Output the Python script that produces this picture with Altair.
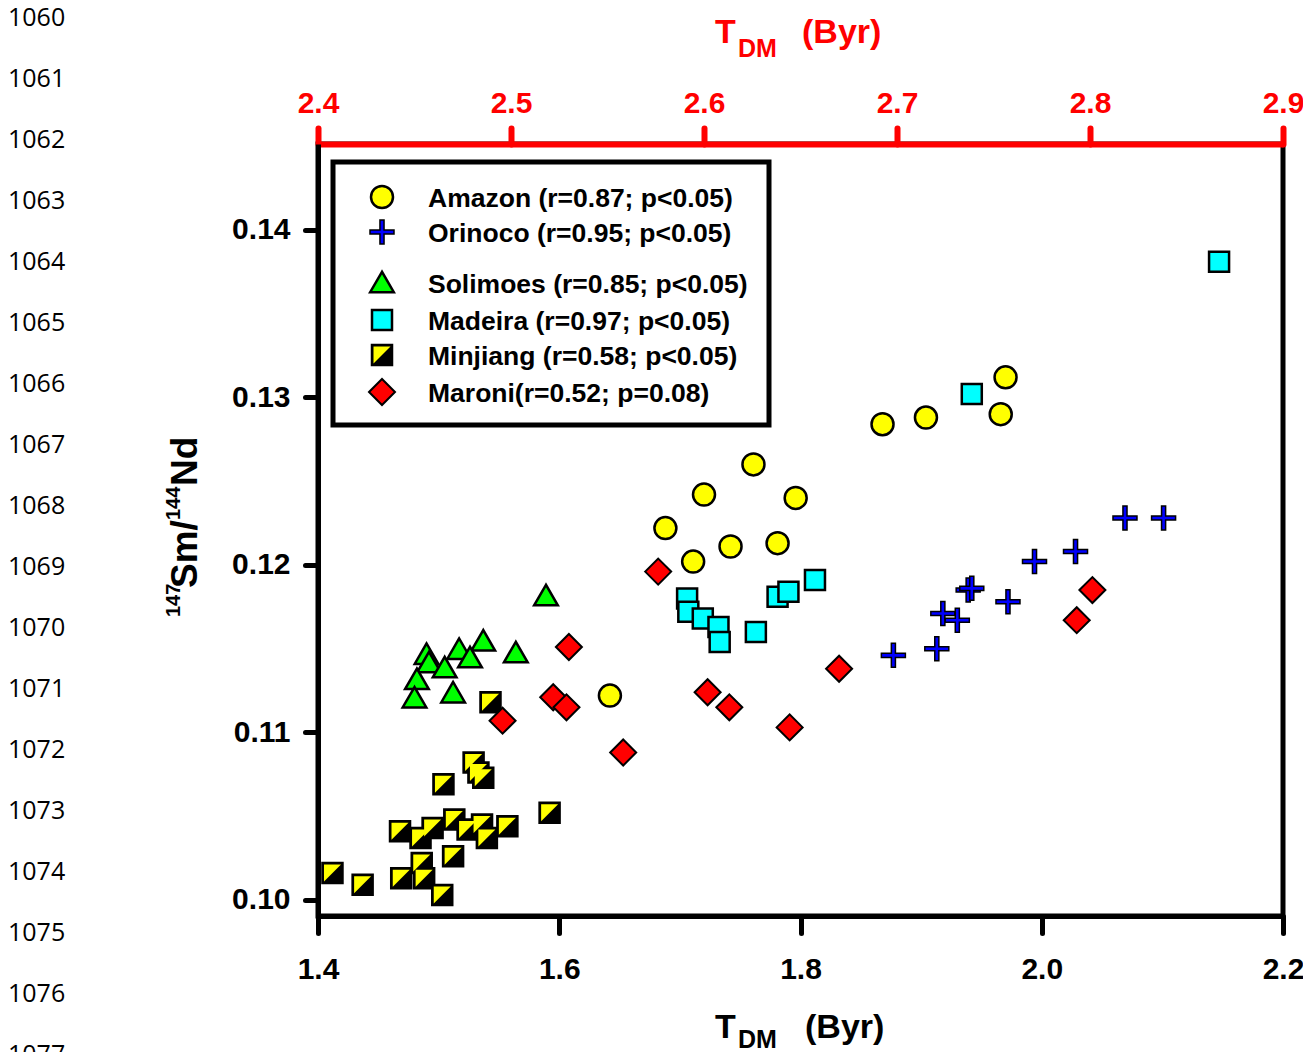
import altair as alt
import pandas as pd

# ---------------- data ----------------
amazon_x = [1.642, 1.688, 1.711, 1.720, 1.742, 1.761, 1.781, 1.796, 1.868, 1.904, 1.966, 1.970]
amazon_y = [0.1122, 0.1222, 0.1202, 0.1242, 0.1211, 0.1260, 0.1213, 0.1240, 0.1284, 0.1288, 0.1290, 0.1312]

orinoco_x = [1.877, 1.913, 1.918, 1.930, 1.939, 1.942, 1.972, 1.994, 2.028, 2.069, 2.101]
orinoco_y = [0.1146, 0.1150, 0.1171, 0.1167, 0.1185, 0.1186, 0.1178, 0.1202, 0.1208, 0.1228, 0.1228]

solimoes_x = [1.589, 1.537, 1.517, 1.564, 1.526, 1.490, 1.492, 1.505, 1.482, 1.512, 1.480]
solimoes_y = [0.1182, 0.1155, 0.1150, 0.1148, 0.1145, 0.1147, 0.1142, 0.1139, 0.1132, 0.1124, 0.1121]

madeira_x = [1.706, 1.707, 1.719, 1.732, 1.733, 1.763, 1.781, 1.790, 1.812, 1.942, 2.147]
madeira_y = [0.1180, 0.1172, 0.1168, 0.1163, 0.1154, 0.1160, 0.1181, 0.1184, 0.1191, 0.1302, 0.1381]

minjiang_x = [1.543, 1.529, 1.533, 1.537, 1.504, 1.592, 1.557, 1.468, 1.495, 1.513, 1.485,
              1.524, 1.536, 1.540, 1.512, 1.486, 1.412, 1.437, 1.469, 1.488, 1.503]
minjiang_y = [0.1118, 0.1082, 0.1076, 0.1073, 0.1069, 0.1052, 0.1044, 0.1041, 0.1043, 0.1048, 0.1037,
              0.1042, 0.1045, 0.1037, 0.1026, 0.1022, 0.1016, 0.1009, 0.1013, 0.1013, 0.1003]

maroni_x = [1.682, 1.723, 1.741, 1.791, 1.653, 1.832, 1.608, 1.595, 1.606, 1.553, 2.042, 2.029]
maroni_y = [0.1196, 0.1124, 0.1115, 0.1103, 0.1088, 0.1138, 0.1151, 0.1121, 0.1115, 0.1107, 0.1185, 0.1167]

bottom_ticks = [1.4, 1.6, 1.8, 2.0, 2.2]
left_ticks = [0.10, 0.11, 0.12, 0.13, 0.14]
top_ticks = [2.4, 2.5, 2.6, 2.7, 2.8, 2.9]
line_numbers = [str(n) for n in range(1060, 1078)]

legend_labels = ["Amazon (r=0.87; p<0.05)", "Orinoco (r=0.95; p<0.05)",
                 "Solimoes (r=0.85; p<0.05)", "Madeira (r=0.97; p<0.05)",
                 "Minjiang (r=0.58; p<0.05)", "Maroni(r=0.52; p=0.08)"]

# ---------------- styling / layout ----------------
FONT = "Liberation Sans"
W, H = 965, 772

CROSS = ("M-1,-0.17 L-0.17,-0.17 L-0.17,-1 L0.17,-1 L0.17,-0.17 L1,-0.17 L1,0.17 "
         "L0.17,0.17 L0.17,1 L-0.17,1 L-0.17,0.17 L-1,0.17 Z")
HALF = "M-0.85,-0.85 L0.85,-0.85 L-0.85,0.85 Z"

xscale = alt.Scale(domain=[1.4, 2.2], nice=False, zero=False)
yscale = alt.Scale(domain=[0.09904, 0.14513], nice=False, zero=False)

bottom_axis = alt.Axis(orient="bottom", values=bottom_ticks, format=".1f", title=None,
                       domainColor="black", domainWidth=5, tickColor="black", tickWidth=5,
                       tickSize=17, tickCap="round", labelFont=FONT, labelFontSize=30,
                       labelFontWeight="bold", labelColor="black", labelPadding=21,
                       labelFlush=False, labelOverlap=False, grid=False)
left_axis = alt.Axis(orient="left", values=left_ticks, format=".2f", title=None,
                     domainColor="black", domainWidth=5, tickColor="black", tickWidth=5,
                     tickSize=13, tickCap="round", labelFont=FONT, labelFontSize=30,
                     labelFontWeight="bold", labelColor="black", labelPadding=15,
                     labelFlush=False, labelOverlap=False, grid=False)
top_axis = alt.Axis(orient="top", values=top_ticks, format=".1f", title=None,
                    domainColor="#ff0000", domainWidth=6, tickColor="#ff0000", tickWidth=6,
                    tickSize=16, tickCap="round", labelFont=FONT, labelFontSize=30,
                    labelFontWeight="bold", labelColor="#ff0000", labelPadding=10,
                    labelFlush=False, labelOverlap=False, grid=False)


def series(xs, ys, shape, fill, stroke, size, sw):
    df = pd.DataFrame({"x": xs, "y": ys})
    return alt.Chart(df).mark_point(shape=shape, filled=True, fill=fill, stroke=stroke,
                                    strokeWidth=sw, size=size, opacity=1).encode(
        x=alt.X("x:Q", scale=xscale, axis=bottom_axis),
        y=alt.Y("y:Q", scale=yscale, axis=left_axis),
    )


data_layers = [
    series(amazon_x, amazon_y, "circle", "#ffff00", "black", 484, 2.5),
    series(orinoco_x, orinoco_y, CROSS, "#0000ff", "black", 576, 1.5),
    series(solimoes_x, solimoes_y, "triangle-up", "#00ff00", "black", 560, 2.5),
    series(madeira_x, madeira_y, "square", "#00ffff", "black", 400, 2.5),
    series(minjiang_x, minjiang_y, "square", "black", "black", 400, 2.5),
    series(minjiang_x, minjiang_y, HALF, "#ffff00", "black", 400, 0),
    series(maroni_x, maroni_y, "diamond", "#ff0000", "black", 676, 2),
]
inner = alt.layer(*data_layers)

top_layer = alt.Chart(pd.DataFrame({"t": top_ticks})).mark_point(opacity=0).encode(
    x=alt.X("t:Q", scale=alt.Scale(domain=[2.4, 2.9], nice=False, zero=False), axis=top_axis)
)

one = pd.DataFrame({"a": [0]})


def text_at(txt, x, y, size, color="black", weight="bold", font=FONT, angle=0, align="left"):
    return alt.Chart(one).mark_text(text=txt, font=font, fontSize=size, fontWeight=weight,
                                    color=color, align=align, baseline="alphabetic",
                                    angle=angle).encode(x=alt.value(x), y=alt.value(y))


decor = []
# legend box
decor.append(alt.Chart(one).mark_rect(fill="white", stroke="black", strokeWidth=5).encode(
    x=alt.value(15), x2=alt.value(451), y=alt.value(18), y2=alt.value(281)))

# legend markers
leg_marker_y = [53, 88, 138, 176, 211, 248]
leg_specs = [("circle", "#ffff00", 484, 2.5), (CROSS, "#0000ff", 576, 1.5),
             ("triangle-up", "#00ff00", 560, 2.5), ("square", "#00ffff", 400, 2.5),
             ("square", "black", 400, 2.5), ("diamond", "#ff0000", 676, 2)]
for (shape, fill, size, sw), yy in zip(leg_specs, leg_marker_y):
    decor.append(alt.Chart(one).mark_point(shape=shape, filled=True, fill=fill, stroke="black",
                                           strokeWidth=sw, size=size, opacity=1).encode(
        x=alt.value(64), y=alt.value(yy)))
decor.append(alt.Chart(one).mark_point(shape=HALF, filled=True, fill="#ffff00", strokeWidth=0,
                                       size=400, opacity=1).encode(
    x=alt.value(64), y=alt.value(leg_marker_y[4])))

leg_text_y = [63, 98, 149, 186, 221, 258]
for lab, yy in zip(legend_labels, leg_text_y):
    decor.append(text_at(lab, 110, yy, 26.5))

# bottom axis title  T_DM (Byr)
decor.append(text_at("T", 397, 894, 34))
decor.append(text_at("DM", 420, 904, 25))
decor.append(text_at("(Byr)", 487, 894, 34))
# top axis title (red)
decor.append(text_at("T", 397, -101, 34, color="#ff0000"))
decor.append(text_at("DM", 420, -87, 25, color="#ff0000"))
decor.append(text_at("(Byr)", 484, -101, 34, color="#ff0000"))
# y title 147Sm/144Nd (rotated)
decor.append(text_at("147", -138, 473, 20, angle=270))
decor.append(text_at("Sm/", -121, 444, 37, angle=270))
decor.append(text_at("144", -138, 376, 20, angle=270))
decor.append(text_at("Nd", -121, 342, 37, angle=270))

# manuscript line numbers on the left
decor.append(alt.Chart(one).mark_text(text=line_numbers, font="Open Sans", fontSize=25,
                                      fontWeight="normal", color="black", align="left",
                                      baseline="alphabetic", lineHeight=61).encode(
    x=alt.value(-310), y=alt.value(-118)))

chart = alt.layer(inner, top_layer, *decor).resolve_scale(x="independent").properties(
    width=W, height=H,
    autosize=alt.AutoSizeParams(type="none"),
    padding={"left": 310, "top": 136, "right": 20, "bottom": 136},
).configure_view(stroke="black", strokeWidth=5).configure_axis(grid=False)

chart.save("out.html", embed_options={"renderer": "svg", "actions": False})
